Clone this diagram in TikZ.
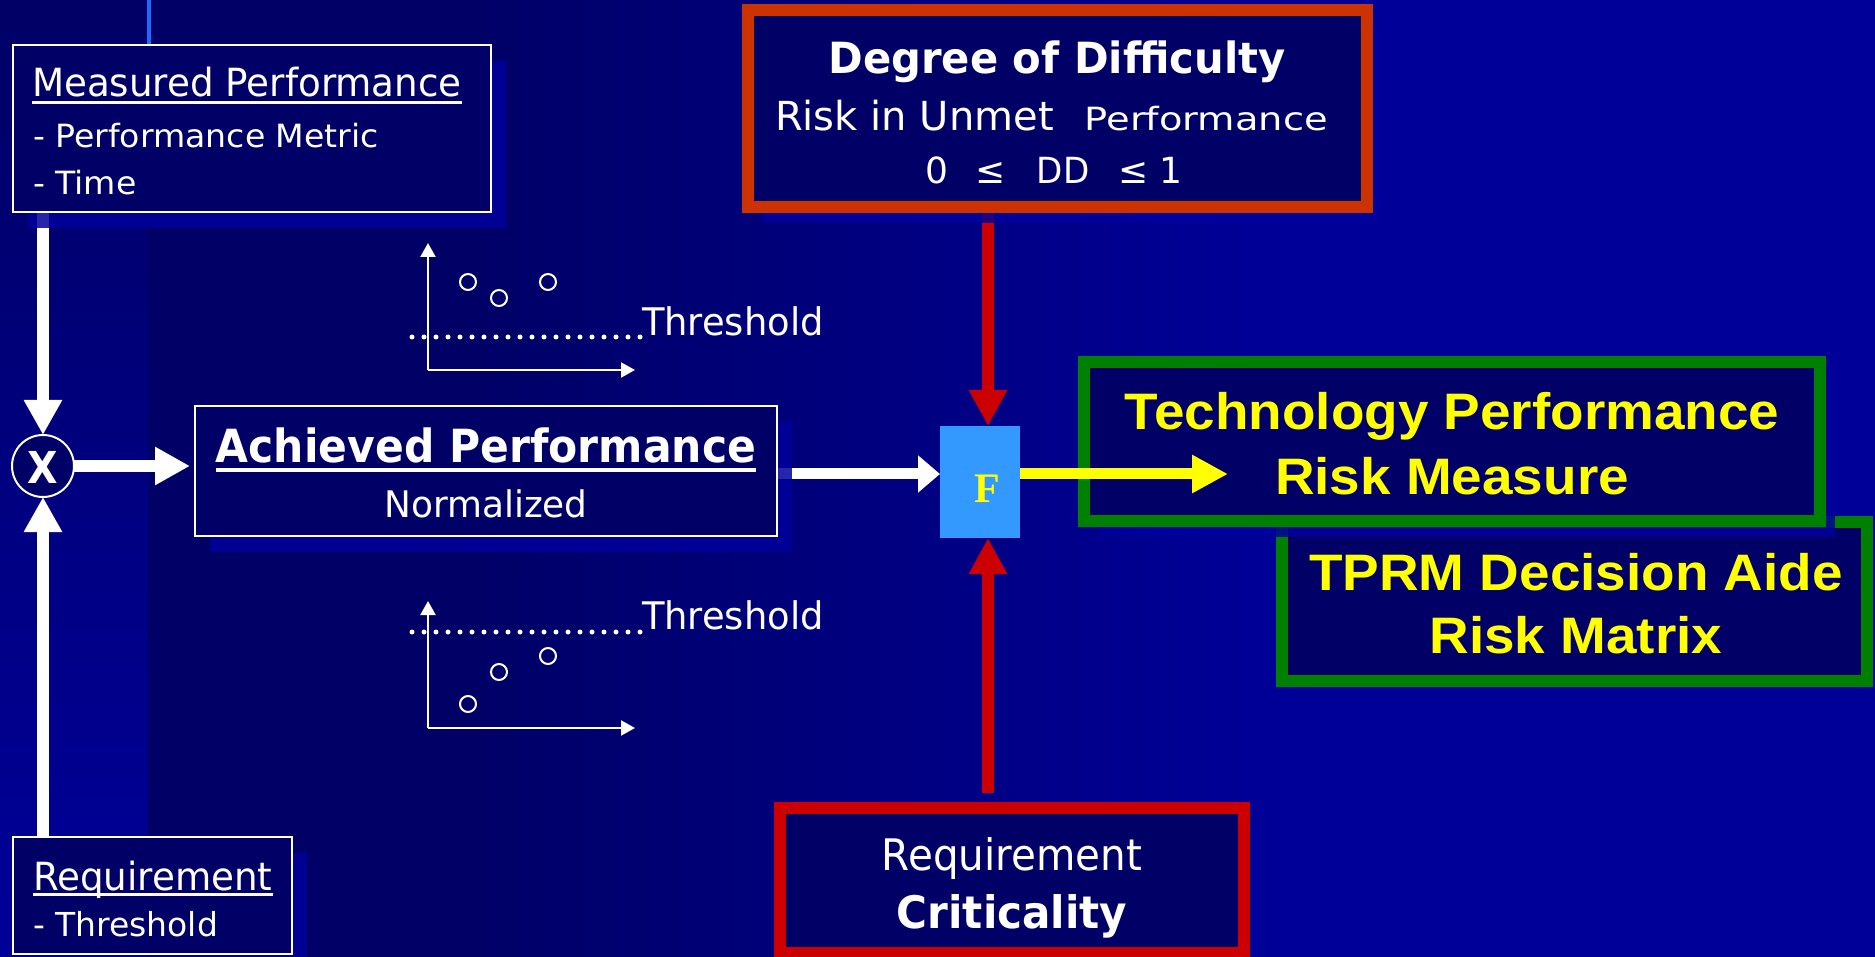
\documentclass[tikz,border=0pt]{standalone}
\usepackage{fontspec}
\usepackage{graphicx}
\setmainfont{DejaVu Sans}
\newfontfamily\arialf{Liberation Sans}
\newfontfamily\timesf{Liberation Serif}
\usetikzlibrary{arrows.meta,calc,shadows}
\definecolor{bgdark}{HTML}{000066}
\definecolor{bglight}{HTML}{000099}
\definecolor{boxfill}{HTML}{000066}
\definecolor{ddred}{HTML}{CC3300}
\definecolor{crred}{HTML}{CC0000}
\definecolor{grn}{HTML}{008000}
\definecolor{fblue}{HTML}{3399FF}
\definecolor{lineblue}{HTML}{1E6AFF}
\definecolor{shad}{HTML}{00009C}
\definecolor{yel}{HTML}{FFFF00}
\newcommand{\hs}[2]{\scalebox{#1}[1]{#2}}
\newcommand{\fz}[1]{\fontsize{#1pt}{#1pt}\selectfont}
\pgfdeclarelayer{back}
\pgfdeclarelayer{arrowlayer}
\pgfsetlayers{back,arrowlayer,main}
\begin{document}
\begin{tikzpicture}[x=1pt,y=-1pt,
  every node/.style={inner sep=0pt,outer sep=0pt},
  wbox/.style={draw=white,line width=2pt,fill=boxfill},
  rbox/.style={line width=12pt,fill=boxfill},
  gbox/.style={draw=grn,line width=12pt,fill=boxfill},
  shd/.style={drop shadow={shadow xshift=15pt,shadow yshift=-16pt,fill=shad,opacity=0.85}},
  wtxt/.style={text=white},
  ytxt/.style={text=yel},
  warrow/.style={draw=white,line width=12pt,-{Triangle[width=36pt,length=35pt]}},
  wshort/.style={draw=white,line width=11pt,-{Triangle[width=36pt,length=22pt]}},
  rarrow/.style={draw=crred,line width=12pt,-{Triangle[width=36pt,length=36pt]}},
  yarrow/.style={draw=yel,line width=11pt,-{Triangle[width=36pt,length=36pt]}},
  axarrow/.style={draw=white,line width=2pt,-{Triangle[width=15pt,length=14pt]}},
  dotline/.style={draw=white,line width=5pt,line cap=round,dash pattern=on 0pt off 12pt},
  ptcircle/.style={draw=white,line width=2pt}
]
\useasboundingbox (0,0) rectangle (1875,957);
\begin{pgfonlayer}{back}
\fill[top color=bgdark,bottom color=bglight] (0,0) rectangle (148,957);
\fill[bgdark] (148,0) rectangle (460,957);
\fill[left color=bgdark,right color=bglight] (460,0) rectangle (1300,957);
\fill[bglight] (1300,0) rectangle (1875,957);
\draw[lineblue,line width=4pt] (149,0) -- (149,44);
\end{pgfonlayer}

% boxes
\node[wbox,shd,minimum width=478pt,minimum height=167pt] (meas) at (252,128.5) {};
\node[wbox,shd,minimum width=279pt,minimum height=117pt] (req) at (152.5,895.5) {};
\node[wbox,shd,minimum width=582pt,minimum height=130pt] (ach) at (486,471) {};
\node[rbox,draw=ddred,shd,minimum width=619pt,minimum height=197pt] (dd) at (1057.5,108.5) {};
\node[rbox,draw=crred,shd,minimum width=464pt,minimum height=145pt] (crit) at (1012,880.5) {};
\node[gbox,minimum width=585pt,minimum height=159pt] (tprm) at (1574.5,601.5) {};
\node[gbox,shd,minimum width=736pt,minimum height=159pt] (tech) at (1452,441.5) {};
\node[fill=fblue,minimum width=80pt,minimum height=112pt] (F) at (980,482) {};
\node[circle,draw=white,line width=2pt,fill=boxfill,minimum size=62pt] (circ) at (43,466) {};
\coordinate (ftop) at ($(F.north)+(8,0)$);
\coordinate (fbot) at ($(F.south)+(8,0)$);
\coordinate (ytip) at (1228,474);

% connectors (under the boxes)
\begin{pgfonlayer}{arrowlayer}
\draw[warrow] (meas.south -| circ.north) -- (circ.north);
\draw[warrow] (req.north -| circ.south) -- (circ.south);
\draw[warrow,shorten >=5pt] (circ.east) -- (circ.east -| ach.west);
\draw[wshort] (ach.east |- ytip) -- (F.west |- ytip);
\draw[rarrow] (dd.south -| ftop) -- (ftop);
\draw[rarrow,shorten <=15pt] (crit.north -| fbot) -- (fbot);
\end{pgfonlayer}
\draw[yarrow] (F.east |- ytip) -- (ytip);

% texts: measured performance
\node[wtxt,anchor=base west] (mt) at (32,97) {\fz{38.8}\hs{0.96}{Measured Performance}};
\draw[white,line width=3pt] ($(mt.base west)+(0,5.5)$) -- ($(mt.base east)+(0,5.5)$);
\node[wtxt,anchor=base west] (m2) at (33,148) {\fz{32}\hs{1.035}{- Performance Metric}};
\node[wtxt,anchor=base west] (m3) at (33,195) {\fz{32}\hs{1.035}{- Time}};

% requirement
\node[wtxt,anchor=base west] (r1) at (33,890) {\fz{38.8}\hs{0.96}{Requirement}};
\draw[white,line width=3pt] ($(r1.base west)+(0,4.5)$) -- ($(r1.base east)+(0,4.5)$);
\node[wtxt,anchor=base west] (r2) at (33,936) {\fz{33}\hs{1.0}{- Threshold}};

% achieved
\node[wtxt,anchor=base] (a1) at (486,463) {\fz{45.7}\bfseries\hs{0.93}{Achieved Performance}};
\draw[white,line width=4pt] ($(a1.base west)+(0,7)$) -- ($(a1.base east)+(0,7)$);
\node[wtxt,anchor=base] (a2) at (486,517) {\fz{36.6}\hs{0.98}{Normalized}};

% multiply
\node[wtxt,anchor=base] (xl) at (43,483) {\fz{44}\bfseries\hs{0.9}{X}};

% chart 1
\coordinate (o1) at (428,370);
\coordinate (yt1) at (428,243);
\coordinate (xt1) at (635,370);
\draw[axarrow] (o1) -- (yt1);
\draw[axarrow] (o1) -- (xt1);
\coordinate (ds1) at (412,337);
\coordinate (de1) at (640,337);
\draw[dotline] (ds1) -- (de1);
\node[wtxt,anchor=base west] (th1) at (642,336) {\fz{38}\hs{0.97}{Threshold}};
\draw[ptcircle] (468,282) circle[radius=8];
\draw[ptcircle] (499,298) circle[radius=8];
\draw[ptcircle] (548,282) circle[radius=8];

% chart 2
\coordinate (o2) at (428,728);
\coordinate (yt2) at (428,601);
\coordinate (xt2) at (635,728);
\draw[axarrow] (o2) -- (yt2);
\draw[axarrow] (o2) -- (xt2);
\coordinate (ds2) at (412,632);
\coordinate (de2) at (640,632);
\draw[dotline] (ds2) -- (de2);
\node[wtxt,anchor=base west] (th2) at (642,629) {\fz{38}\hs{0.97}{Threshold}};
\draw[ptcircle] (468,704) circle[radius=8];
\draw[ptcircle] (499,672) circle[radius=8];
\draw[ptcircle] (548,656) circle[radius=8];

% degree of difficulty
\node[wtxt,anchor=base] (d1) at (1057,74) {\fz{43}\bfseries\hs{0.97}{Degree of Difficulty}};
\node[wtxt,anchor=base west] (d2) at (775,131) {\fz{40}\hs{1.0}{Risk in Unmet}};
\node[wtxt,anchor=base east] (d3) at (1328,131) {\fz{32}\hs{1.2}{Performance}};
\node[wtxt,anchor=base] (z0) at (937,184) {\fz{36}0};
\node[wtxt,anchor=base] (z1) at (991,184) {\fz{36}≤};
\node[wtxt,anchor=base] (z2) at (1063,184) {\fz{36}\hs{0.95}{DD}};
\node[wtxt,anchor=base] (z3) at (1134,184) {\fz{36}≤};
\node[wtxt,anchor=base] (z4) at (1171,184) {\fz{36}1};

% criticality
\node[wtxt,anchor=base] (c1) at (1012,870) {\fz{43.5}\hs{0.93}{Requirement}};
\node[wtxt,anchor=base] (c2) at (1012,928) {\fz{44.8}\bfseries\hs{0.94}{Criticality}};

% green boxes
\node[ytxt,anchor=base] (t1) at (1452,430) {\fz{51.3}\arialf\bfseries\hs{1.07}{Technology Performance}};
\node[ytxt,anchor=base] (t2) at (1452,494) {\fz{51.3}\arialf\bfseries\hs{1.07}{Risk Measure}};
\node[ytxt,anchor=base] (p1) at (1576,590) {\fz{51.3}\arialf\bfseries\hs{1.07}{TPRM Decision Aide}};
\node[ytxt,anchor=base] (p2) at (1576,653) {\fz{51.3}\arialf\bfseries\hs{1.07}{Risk Matrix}};

% F
\node[ytxt,anchor=base] (fl) at (987,503) {\fz{42}\timesf\bfseries F};
\end{tikzpicture}
\end{document}
